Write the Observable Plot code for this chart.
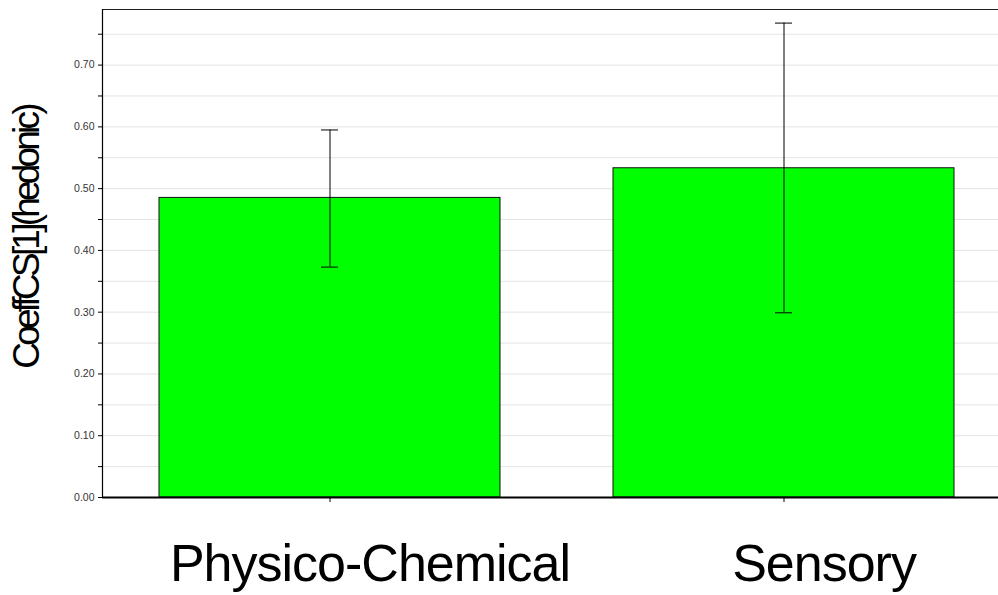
<!DOCTYPE html>
<html>
<head>
<meta charset="utf-8">
<script src="https://cdn.jsdelivr.net/npm/d3@7"></script>
<script src="https://cdn.jsdelivr.net/npm/@observablehq/plot@0.6"></script>
<style>
  html, body { margin: 0; padding: 0; background: #fff; }
  svg { overflow: hidden; }
  .xax text { letter-spacing: -1px; }
  .ylab text { letter-spacing: -3.8px; }
</style>
</head>
<body>
<div id="chart"></div>
<script>
const categories = ["Physico-Chemical", "Sensory"];
const means = [0.485, 0.533];
const lower = [0.373, 0.299];
const upper = [0.595, 0.768];
const yMajorTicks = [0, 0.1, 0.2, 0.3, 0.4, 0.5, 0.6, 0.7];
const yGridTicks = [0.05, 0.1, 0.15, 0.2, 0.25, 0.3, 0.35, 0.4, 0.45, 0.5, 0.55, 0.6, 0.65, 0.7, 0.75];
const yMinorTicks = [0.05, 0.15, 0.25, 0.35, 0.45, 0.55, 0.65, 0.75];
const yLabel = "CoeffCS[1](hedonic)";

const data = categories.map((c, i) => ({cat: c, mean: means[i], lo: lower[i], hi: upper[i]}));

const chart = Plot.plot({
  width: 998,
  height: 595,
  marginTop: 9,
  marginBottom: 98,
  marginLeft: 102,
  marginRight: 0,
  style: {fontFamily: "Liberation Sans, Arial, sans-serif", background: "#fff"},
  x: {domain: categories, range: [102, 1010], paddingInner: 0.25, paddingOuter: 0.125, align: 0.5},
  y: {domain: [0, 0.79]},
  marks: [
    Plot.ruleY(yGridTicks, {stroke: "#e3e3e3", strokeWidth: 1}),
    Plot.frame({anchor: "top", stroke: "#222", strokeWidth: 1}),
    Plot.barY(data, {x: "cat", y: "mean", fill: "#00ff00", stroke: "#111", strokeWidth: 1}),
    Plot.ruleX(data, {x: "cat", y1: "lo", y2: "hi", stroke: "#000", strokeWidth: 1}),
    Plot.tickY(data, {x: "cat", y: "lo", stroke: "#000", strokeWidth: 1, insetLeft: 162, insetRight: 162}),
    Plot.tickY(data, {x: "cat", y: "hi", stroke: "#000", strokeWidth: 1, insetLeft: 162, insetRight: 162}),
    Plot.axisY(yMajorTicks, {tickFormat: d3.format(".2f"), tickSize: 4, tickPadding: 4, fontSize: 10.5, color: "#333", stroke: "#000", label: null}),
    Plot.axisY(yMinorTicks, {tickFormat: () => "", tickSize: 4, stroke: "#000", label: null}),
    Plot.frame({anchor: "left", stroke: "#000", strokeWidth: 1.2}),
    Plot.axisX({tickSize: 5, tickFormat: () => "", stroke: "#000", label: null}),
    Plot.axisX({tickSize: 0, tickPadding: 47, fontSize: 52, dx: 40, color: "#000", label: null, className: "xax"}),
    Plot.ruleY([0], {stroke: "#000", strokeWidth: 2}),
    Plot.text([yLabel], {frameAnchor: "left", dx: -75, dy: -16, rotate: -90, textAnchor: "middle", fontSize: 37, fill: "#000", lineWidth: 100, className: "ylab"})
  ]
});
document.getElementById("chart").appendChild(chart);
</script>
</body>
</html>
